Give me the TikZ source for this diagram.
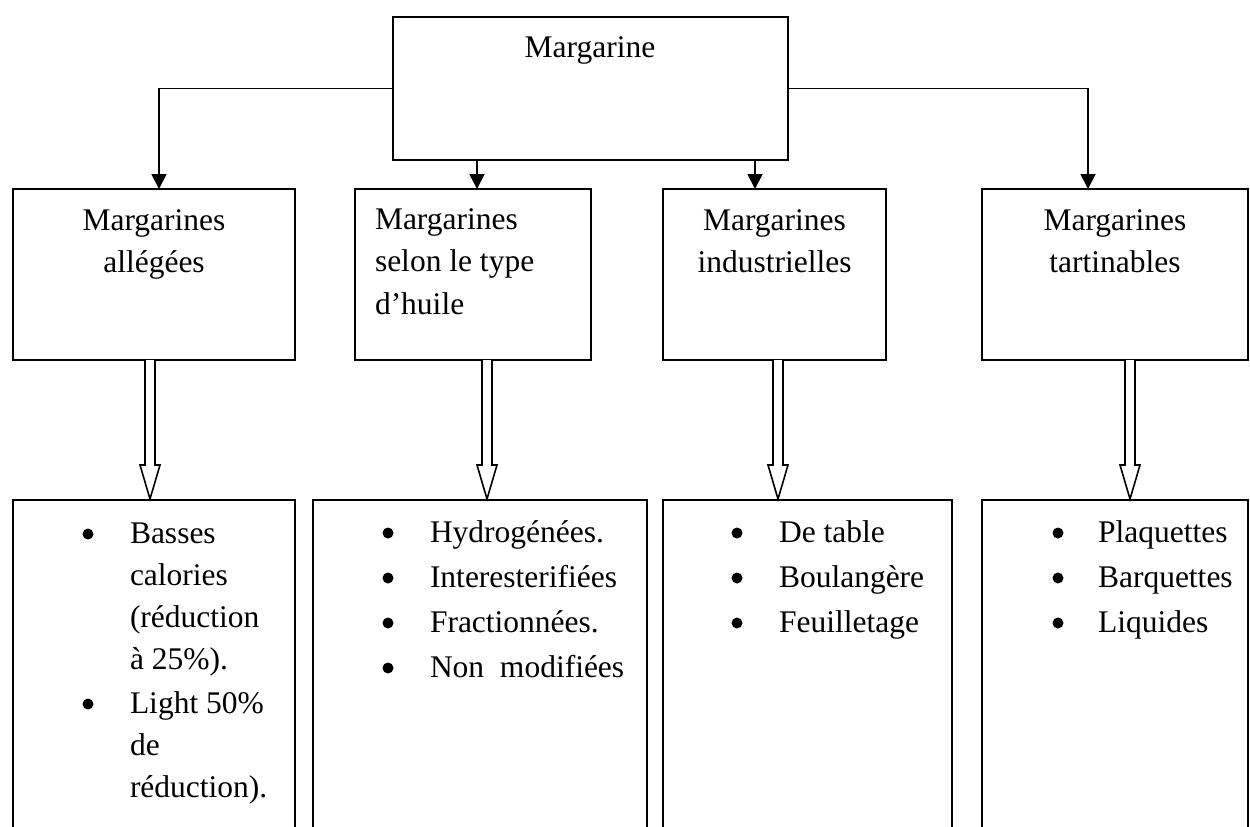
\documentclass[tikz,border=0pt]{standalone}
\usepackage{fontspec}
\setmainfont{Liberation Serif}
\usetikzlibrary{arrows.meta,calc}
\begin{document}
\begin{tikzpicture}[x=1pt,y=-1pt,
  every node/.style={inner sep=0pt, outer sep=0pt},
  txt/.style={font=\fontsize{31.5}{42.5}\selectfont, anchor=base},
  ltxt/.style={font=\fontsize{31.5}{42.5}\selectfont, anchor=base west},
  frame/.style={draw, line width=2.1pt, rectangle},
  link/.style={line width=1.9pt, -{Triangle[width=15pt,length=15pt]}},
  dot/.style={circle, fill, minimum size=11pt, inner sep=0pt},
  hollowdown/.pic={
    \draw[line width=1.6pt, fill=white, line join=miter]
      (-5,0) -- (-5,105) -- (-10,105) -- (0,139) -- (10,105) -- (5,105) -- (5,0);
  }
]
\useasboundingbox (0,0) rectangle (1250,827);
\clip (0,0) rectangle (1250,827);

% root box
\node[frame, minimum width=395pt, minimum height=143pt] (top) at (590.5,88.5) {};
\node[txt] (top-t) at (590,57) {Margarine};

% second row
\node[frame, minimum width=282pt, minimum height=171pt] (c1) at (154,274.5) {};
\node[frame, minimum width=236pt, minimum height=171pt] (c2) at (473,274.5) {};
\node[frame, minimum width=223pt, minimum height=171pt] (c3) at (774.5,274.5) {};
\node[frame, minimum width=266pt, minimum height=171pt] (c4) at (1115,274.5) {};

\node[txt] (c1-a) at (154,230) {Margarines};
\node[txt] (c1-b) at (154,272.5) {allégées};
\node[ltxt] (c2-a) at (375,229) {Margarines};
\node[ltxt] (c2-b) at (375,271.5) {selon le type};
\node[ltxt] (c2-c) at (375,314) {d’huile};
\node[txt] (c3-a) at (774.5,230) {Margarines};
\node[txt] (c3-b) at (774.5,272.5) {industrielles};
\node[txt] (c4-a) at (1115,230) {Margarines};
\node[txt] (c4-b) at (1115,272.5) {tartinables};

% links from the root box
\coordinate (e1) at ($(c1.north)+(5,0)$);
\coordinate (e2) at ($(c2.north)+(4,0)$);
\coordinate (e3) at ($(c3.north)+(-19.5,0)$);
\coordinate (e4) at ($(c4.north)+(-27,0)$);
\draw[link] (top.west) -| (e1);
\draw[link] (top.east) -| (e4);
\draw[link] (e2 |- top.south) -- (e2);
\draw[link] (e3 |- top.south) -- (e3);

% third row
\node[frame, minimum width=282pt, minimum height=360pt] (d1) at (154,680) {};
\node[frame, minimum width=334pt, minimum height=360pt] (d2) at (480,680) {};
\node[frame, minimum width=289pt, minimum height=360pt] (d3) at (807.5,680) {};
\node[frame, minimum width=266pt, minimum height=360pt] (d4) at (1115,680) {};

% hollow arrows between the rows
\pic at ($(c1.south)+(-4,0)$) {hollowdown};
\pic at ($(c2.south)+(14,0)$) {hollowdown};
\pic at ($(c3.south)+(3.5,0)$) {hollowdown};
\pic at ($(c4.south)+(15,0)$) {hollowdown};

% list: light margarines
\node[dot] (d1-p1) at (88,534) {};
\node[ltxt] (d1-l1) at (130,543) {Basses};
\node[ltxt] (d1-l2) at (130,585) {calories};
\node[ltxt] (d1-l3) at (130,627) {(réduction};
\node[ltxt] (d1-l4) at (130,669) {à 25\%).};
\node[dot] (d1-p2) at (88,704) {};
\node[ltxt] (d1-l5) at (130,713) {Light 50\%};
\node[ltxt] (d1-l6) at (130,755) {de};
\node[ltxt] (d1-l7) at (130,797) {réduction).};

% list: by type of oil
\node[dot] (d2-p1) at (388,533) {};
\node[ltxt] (d2-l1) at (430,542) {Hydrogénées.};
\node[dot] (d2-p2) at (388,578) {};
\node[ltxt] (d2-l2) at (430,587) {Interesterifiées};
\node[dot] (d2-p3) at (388,623) {};
\node[ltxt] (d2-l3) at (430,632) {Fractionnées.};
\node[dot] (d2-p4) at (388,668) {};
\node[ltxt] (d2-l4) at (430,677) {Non~~modifiées};

% list: industrial
\node[dot] (d3-p1) at (737,533) {};
\node[ltxt] (d3-l1) at (779,542) {De table};
\node[dot] (d3-p2) at (737,578) {};
\node[ltxt] (d3-l2) at (779,587) {Boulangère};
\node[dot] (d3-p3) at (737,623) {};
\node[ltxt] (d3-l3) at (779,632) {Feuilletage};

% list: spreads
\node[dot] (d4-p1) at (1058,533) {};
\node[ltxt] (d4-l1) at (1098,542) {Plaquettes};
\node[dot] (d4-p2) at (1058,578) {};
\node[ltxt] (d4-l2) at (1098,587) {Barquettes};
\node[dot] (d4-p3) at (1058,623) {};
\node[ltxt] (d4-l3) at (1098,632) {Liquides};
\end{tikzpicture}
\end{document}
